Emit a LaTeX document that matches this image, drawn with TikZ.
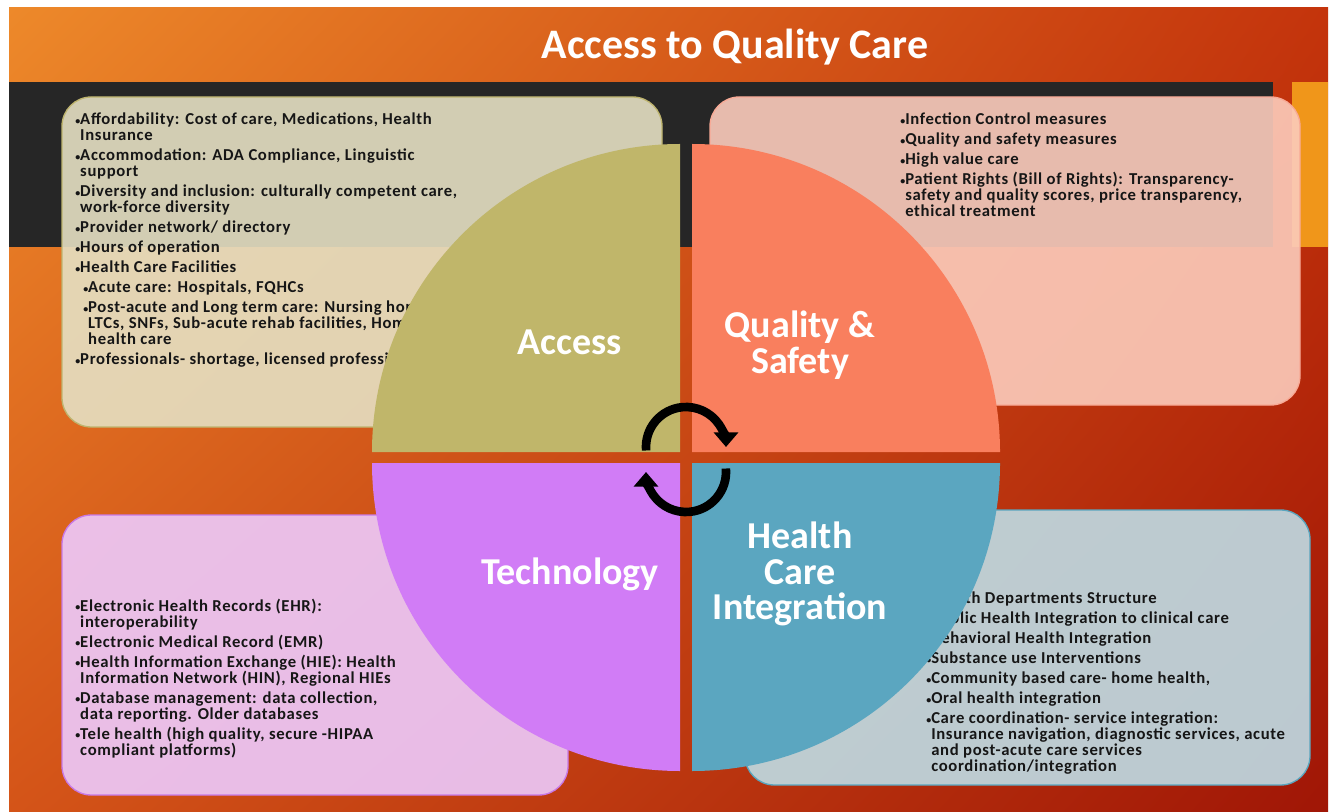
\documentclass[tikz,border=0pt]{standalone}
\usepackage{fontspec}
\setmainfont{Carlito}
\newfontfamily\boxfont{Carlito}[LetterSpace=4]
\usepackage{tikz}
\usetikzlibrary{arrows.meta,%
                shadings,positioning}

\definecolor{bgul}{RGB}{237,137,42}
\definecolor{bgur}{RGB}{196,52,12}
\definecolor{bgll}{RGB}{212,84,24}
\definecolor{bglr}{RGB}{160,22,6}
\definecolor{bandgray}{RGB}{38,38,38}
\definecolor{tabfill}{RGB}{240,150,26}
\definecolor{accessfill}{RGB}{192,182,106}
\definecolor{qualfill}{RGB}{249,127,94}
\definecolor{techfill}{RGB}{209,124,246}
\definecolor{hcifill}{RGB}{91,166,192}
\definecolor{accessbg}{RGB}{229,224,195}
\definecolor{qualbg}{RGB}{252,204,188}
\definecolor{techbg}{RGB}{237,202,253}
\definecolor{hcibg}{RGB}{191,221,230}
\definecolor{accessline}{RGB}{190,180,110}
\definecolor{qualline}{RGB}{248,170,150}
\definecolor{techline}{RGB}{200,120,230}
\definecolor{hciline}{RGB}{90,165,190}
\definecolor{boxtext}{RGB}{22,22,22}

\newcommand{\bul}{\raisebox{0.6pt}{\fontsize{7.5}{7.5}\selectfont•}}
\newcommand{\bcont}{\hphantom{\bul}}

\begin{document}
\begin{tikzpicture}[x=0.75pt,y=-0.75pt,
  infobox/.style={rectangle,rounded corners=22pt,line width=1pt,fill opacity=0.9,inner sep=0pt},
  infotext/.style={anchor=north west,align=left,inner sep=0pt,text=boxtext,font=\boxfont\bfseries\fontsize{12.5}{12}\selectfont},
  quadlabel/.style={text=white,align=center,font=\fontsize{28.5}{26.5}\selectfont\bfseries},
  cyclearrow/.style={line width=6.5pt,-{Triangle[width=18pt,length=11pt]}}]
\useasboundingbox (0,0) rectangle (1333,812);
\fill[white] (0,0) rectangle (1333,812);
\shade[upper left=bgul,upper right=bgur,lower left=bgll,lower right=bglr] (9,8) rectangle (1328,812);
\fill[bandgray] (9,82) rectangle (1273,247);
\fill[tabfill] (1292,82) rectangle (1328,247);

\node[infobox,fill=accessbg,draw=accessline,minimum width=450pt,minimum height=247.5pt] (accessbox) at (362,262) {};
\node[infobox,fill=qualbg,draw=qualline,minimum width=442.5pt,minimum height=231pt] (qualbox) at (1005,251) {};
\node[infobox,fill=techbg,draw=techline,minimum width=379.5pt,minimum height=210pt] (techbox) at (315,655) {};
\node[infobox,fill=hcibg,draw=hciline,minimum width=423.75pt,minimum height=206.25pt] (hcibox) at (1027.5,647.5) {};

\node[infotext] (accesstext) at (75,113) {%
\bul Affordability: Cost of care, Medications, Health\\
\bcont Insurance\\[3pt]
\bul Accommodation: ADA Compliance, Linguistic\\
\bcont support\\[3pt]
\bul Diversity and inclusion: culturally competent care,\\
\bcont work-force diversity\\[3pt]
\bul Provider network/ directory\\[3pt]
\bul Hours of operation\\[3pt]
\bul Health Care Facilities\\[3pt]
\hspace*{6pt}\bul Acute care: Hospitals, FQHCs\\[3pt]
\hspace*{6pt}\bul Post-acute and Long term care: Nursing homes,\\
\hspace*{6pt}\bcont LTCs, SNFs, Sub-acute rehab facilities, Home\\
\hspace*{6pt}\bcont health care\\[3pt]
\bul Professionals- shortage, licensed professionals};

\node[infotext] (qualtext) at (900,113) {%
\bul Infection Control measures\\[3pt]
\bul Quality and safety measures\\[3pt]
\bul High value care\\[3pt]
\bul Patient Rights (Bill of Rights): Transparency-\\
\bcont safety and quality scores, price transparency,\\
\bcont ethical treatment};

\node[infotext] (techtext) at (75,599) {%
\bul Electronic Health Records (EHR):\\
\bcont interoperability\\[3pt]
\bul Electronic Medical Record (EMR)\\[3pt]
\bul Health Information Exchange (HIE): Health\\
\bcont Information Network (HIN), Regional HIEs\\[3pt]
\bul Database management: data collection,\\
\bcont data reporting. Older databases\\[3pt]
\bul Tele health (high quality, secure -HIPAA\\
\bcont compliant platforms)};

\node[infotext] (hcitext) at (926,592) {%
\bul Health Departments Structure\\[3pt]
\bul Public Health Integration to clinical care\\[3pt]
\bul Behavioral Health Integration\\[3pt]
\bul Substance use Interventions\\[3pt]
\bul Community based care- home health,\\[3pt]
\bul Oral health integration\\[3pt]
\bul Care coordination- service integration:\\
\bcont Insurance navigation, diagnostic services, acute\\
\bcont and post-acute care services\\
\bcont coordination/integration};

\fill[accessfill] (680,452) -- (372,452) arc[start angle=180,end angle=270,radius=308] -- cycle;
\fill[qualfill] (692,452) -- (692,144) arc[start angle=270,end angle=360,radius=308] -- cycle;
\fill[hcifill] (692,463) -- (1000,463) arc[start angle=0,end angle=90,radius=308] -- cycle;
\fill[techfill] (680,463) -- (680,771) arc[start angle=90,end angle=180,radius=308] -- cycle;

\coordinate (cyctop) at (686,447);
\coordinate (cycbot) at (686,472);
\draw[cyclearrow] (cyctop) ++(175:40) arc[start angle=175,end angle=360,radius=40];
\draw[cyclearrow] (cycbot) ++(-5:40) arc[start angle=-5,end angle=180,radius=40];

\node[quadlabel] (accesslbl) at (570,342) {Access};
\node[quadlabel] (quallbl) at (800,345) {Quality \&\\Safety};
\node[quadlabel] (techlbl) at (570,574) {Technology};
\node[quadlabel] (hcilbl) at (800,574) {Health\\Care\\Integration};

\node[text=white,font=\fontsize{31.5}{33}\selectfont\bfseries] (title) at (735,47) {Access to Quality Care};
\end{tikzpicture}
\end{document}
